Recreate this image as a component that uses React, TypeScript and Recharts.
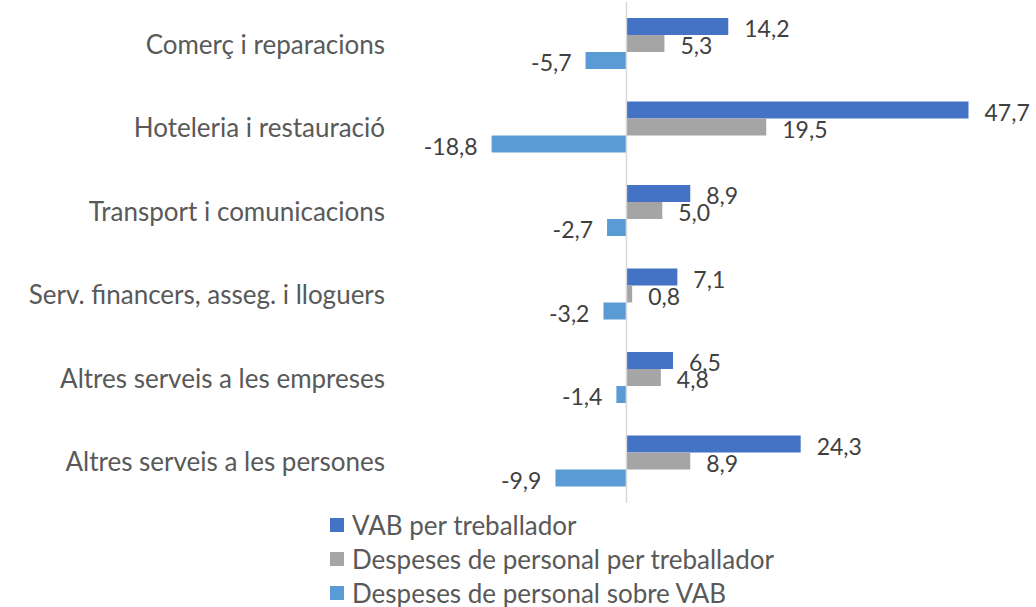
import { BarChart, Bar, XAxis, YAxis, ReferenceLine, LabelList } from "recharts";

const sectors = [
  "Comerç i reparacions",
  "Hoteleria i restauració",
  "Transport i comunicacions",
  "Serv. financers, asseg. i lloguers",
  "Altres serveis a les empreses",
  "Altres serveis a les persones",
];
const vabPerWorker = [14.2, 47.7, 8.9, 7.1, 6.5, 24.3];
const staffCostPerWorker = [5.3, 19.5, 5.0, 0.8, 4.8, 8.9];
const staffCostOverVab = [-5.7, -18.8, -2.7, -3.2, -1.4, -9.9];

const seriesNames = [
  "VAB per treballador",
  "Despeses de personal per treballador",
  "Despeses de personal sobre VAB",
];
const colors = ["#4472C4", "#A5A5A5", "#5B9BD5"];

const FONT = "Lato, 'Open Sans', sans-serif";

const chartData = sectors.map((name, i) => ({
  name,
  vab: vabPerWorker[i],
  cost: staffCostPerWorker[i],
  ratio: staffCostOverVab[i],
}));

const fmt = (v: number) => v.toFixed(1).replace(".", ",");

// value label just outside the bar end (left side for negatives)
const ValueLabel = (props: any) => {
  const { x, y, width, height, value } = props;
  const neg = value < 0;
  const tx = neg ? Math.min(x, x + width) - 14 : Math.max(x, x + width) + 16;
  return (
    <text
      x={tx}
      y={y + height / 2 + 1.5}
      textAnchor={neg ? "end" : "start"}
      dominantBaseline="central"
      fontFamily={FONT}
      fontSize={23}
      fill="#404040"
    >
      {fmt(value)}
    </text>
  );
};

const SectorTick = (props: any) => {
  const { y, payload } = props;
  return (
    <text
      x={385}
      y={y}
      textAnchor="end"
      dominantBaseline="central"
      fontFamily={FONT}
      fontSize={26}
      fill="#595959"
    >
      {payload.value}
    </text>
  );
};

export default function App() {
  return (
    <div style={{ position: "absolute", left: 0, top: 0, width: 1036, height: 607, background: "#fff" }}>
      <BarChart
        width={1036}
        height={607}
        data={chartData}
        layout="vertical"
        margin={{ top: 2, right: 51, bottom: 104, left: 0 }}
        barGap={0}
        barSize={17}
      >
        <XAxis type="number" domain={[-20, 50]} hide />
        <YAxis
          type="category"
          dataKey="name"
          width={483}
          axisLine={false}
          tickLine={false}
          tick={<SectorTick />}
        />
        <ReferenceLine x={0} stroke="#D9D9D9" strokeWidth={1.5} />
        <Bar dataKey="vab" fill={colors[0]} isAnimationActive={false}>
          <LabelList dataKey="vab" content={<ValueLabel />} />
        </Bar>
        <Bar dataKey="cost" fill={colors[1]} isAnimationActive={false}>
          <LabelList dataKey="cost" content={<ValueLabel />} />
        </Bar>
        <Bar dataKey="ratio" fill={colors[2]} isAnimationActive={false}>
          <LabelList dataKey="ratio" content={<ValueLabel />} />
        </Bar>
      </BarChart>
      <div style={{ position: "absolute", left: 330, top: 508, fontFamily: FONT, fontSize: 26, color: "#595959" }}>
        {seriesNames.map((n, i) => (
          <div key={n} style={{ display: "flex", alignItems: "center", height: 34 }}>
            <span style={{ width: 14, height: 14, background: colors[i], marginRight: 8 }} />
            {n}
          </div>
        ))}
      </div>
    </div>
  );
}
